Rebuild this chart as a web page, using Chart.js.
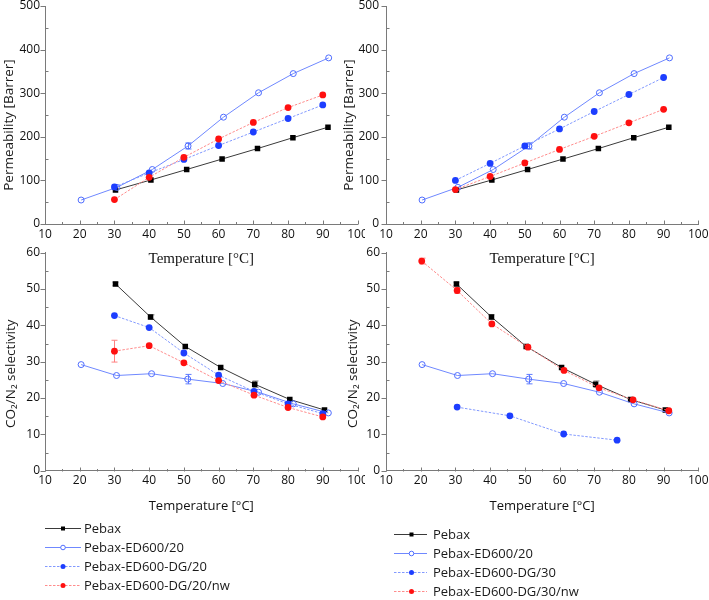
<!DOCTYPE html>
<html>
<head>
<meta charset="utf-8">
<script src="https://cdn.jsdelivr.net/npm/chart.js@4.4.1/dist/chart.umd.min.js"></script>
<style>
  html, body { margin: 0; padding: 0; background: #fff; }
  #wrap { position: relative; width: 709px; height: 600px; overflow: hidden; }
  canvas { position: absolute; }
  .leg { position: absolute; font-family: "Open Sans", sans-serif; font-size: 13px; color: #1a1a1a; }
  .row { position: absolute; height: 18px; white-space: nowrap; }
  .row svg { position: absolute; left: 0; top: 0; }
  .row span { position: absolute; top: 0; line-height: 18px; }
</style>
</head>
<body>
<div id="wrap">
  <canvas id="c1" width="365" height="272" style="left:0px;top:0px"></canvas>
  <canvas id="c2" width="369" height="272" style="left:340px;top:0px"></canvas>
  <canvas id="c3" width="365" height="280" style="left:0px;top:240px"></canvas>
  <canvas id="c4" width="369" height="280" style="left:340px;top:240px"></canvas>
  <div id="leg1" class="leg"></div>
  <div id="leg2" class="leg"></div>
</div>
<script>
// ---------------- data ----------------
// Permeability panels (top)
const pebaxTempP   = [30.3, 40.5, 50.8, 61.0, 71.2, 81.4, 91.5];
const pebaxPerm    = [78, 101, 125, 149, 173, 198, 222];
const ed20TempP    = [20.4, 30.7, 40.9, 51.2, 61.4, 71.5, 81.5, 91.7];
const ed20Perm     = [55, 84, 125, 179, 245, 301, 345, 381];
const ed20PermErr  = [0, 0, 0, 7, 0, 0, 0, 0];
const dgTempP      = [30, 40, 50, 60, 70, 80, 90];
const dg20Perm     = [85, 117, 148, 180, 211, 242, 273];
const dg20nwPerm   = [56, 107, 153, 195, 233, 267, 296];
const dg30Perm     = [100, 139, 179, 218, 258, 297, 336];
const dg30nwPerm   = [79, 109, 140, 171, 201, 232, 263];

// Selectivity panels (bottom)
const pebaxTempS   = [30.3, 40.4, 50.4, 60.6, 70.4, 80.5, 90.5];
const pebaxSel     = [51.4, 42.3, 34.2, 28.4, 23.8, 19.6, 16.7];
const pebaxSelErr  = [0.5, 0.6, 0, 0, 0.9, 0, 0];
const ed20TempS    = [20.4, 30.6, 40.7, 51.1, 61.2, 71.5, 81.5, 91.6];
const ed20Sel      = [29.2, 26.2, 26.7, 25.2, 24.0, 21.6, 18.4, 15.9];
const ed20SelErr   = [0, 0, 0, 1.3, 0, 0, 0, 0];
const dg20TempS    = [30, 40, 50, 60, 70.2, 80, 90];
const dg20Sel      = [42.7, 39.4, 32.4, 26.3, 21.8, 18.4, 15.7];
const dg20nwSel    = [32.9, 34.4, 29.7, 24.8, 20.8, 17.4, 14.8];
const dg20nwSelErr = [3.0, 0, 0, 0, 0, 0, 0];
const dg30TempS    = [30.5, 45.7, 61.2, 76.6];
const dg30Sel      = [17.5, 15.1, 10.1, 8.4];
const dg30nwTempS  = [20.3, 30.5, 40.5, 50.9, 61.3, 71.4, 81.2, 91.5];
const dg30nwSel    = [57.7, 49.6, 40.4, 34.0, 27.6, 22.8, 19.5, 16.5];
const dg30nwSelErr = [0.8, 0.8, 0, 0, 0, 0, 0, 0];

// axes
const tempTicks = [10, 20, 30, 40, 50, 60, 70, 80, 90, 100];
const permTicks = [0, 100, 200, 300, 400, 500];
const selTicks  = [0, 10, 20, 30, 40, 50, 60];

const names1 = ['Pebax', 'Pebax-ED600/20', 'Pebax-ED600-DG/20', 'Pebax-ED600-DG/20/nw'];
const names2 = ['Pebax', 'Pebax-ED600/20', 'Pebax-ED600-DG/30', 'Pebax-ED600-DG/30/nw'];

// ---------------- styles ----------------
const ST = {
  pebax: { line: '#3a3a3a', dash: [], pt: 'rect', r: 3.9, fill: '#000000', stroke: '#000000', bw: 0, err: '#8a8a8a' },
  ed:    { line: '#6f88ff', dash: [], pt: 'circle', r: 3.0, fill: 'rgba(0,0,0,0)', stroke: '#4f6dff', bw: 1, err: '#5f7cff' },
  dg:    { line: '#8299ff', dash: [2.5, 1.5], pt: 'circle', r: 3.4, fill: '#1d3eff', stroke: '#1d3eff', bw: 0, err: '#5f7cff' },
  nw:    { line: '#ff8c8c', dash: [2.5, 1.5], pt: 'circle', r: 3.4, fill: '#ff1010', stroke: '#ff1010', bw: 0, err: '#ff8080' }
};

function ds(label, xs, ys, st, order, errs) {
  return {
    label: label,
    data: xs.map((t, i) => ({ x: t, y: ys[i] })),
    errors: errs || null,
    errColor: st.err,
    showLine: true,
    borderColor: st.line,
    borderWidth: 1,
    borderDash: st.dash,
    pointStyle: st.pt,
    pointRadius: st.r,
    pointBackgroundColor: st.fill,
    pointBorderColor: st.stroke,
    pointBorderWidth: st.bw,
    tension: 0,
    fill: false,
    order: order
  };
}

// ---------------- plugins ----------------
const errorBars = {
  id: 'errorBars',
  beforeDatasetsDraw(chart) {
    const ctx = chart.ctx, y = chart.scales.y;
    chart.data.datasets.forEach((d, di) => {
      if (!d.errors) return;
      const meta = chart.getDatasetMeta(di);
      ctx.save();
      ctx.strokeStyle = d.errColor; ctx.lineWidth = 1;
      d.data.forEach((p, i) => {
        const e = d.errors[i];
        if (!e) return;
        const px = Math.round(meta.data[i].x) + 0.5;
        const y1 = y.getPixelForValue(p.y + e), y2 = y.getPixelForValue(p.y - e);
        ctx.beginPath();
        ctx.moveTo(px, y1); ctx.lineTo(px, y2);
        ctx.moveTo(px - 3, y1); ctx.lineTo(px + 3, y1);
        ctx.moveTo(px - 3, y2); ctx.lineTo(px + 3, y2);
        ctx.stroke();
      });
      ctx.restore();
    });
  }
};

const axisTicks = {
  id: 'axisTicks',
  afterDraw(chart, args, o) {
    const { ctx, chartArea: a, scales: { x, y } } = chart;
    ctx.save();
    ctx.strokeStyle = '#7a7a7a'; ctx.lineWidth = 1;
    ctx.beginPath();
    const yb = Math.round(a.bottom) + 0.5;
    for (let v = x.min; v <= x.max + 1e-9; v += o.xMinor) {
      const px = Math.round(x.getPixelForValue(v)) + 0.5;
      const major = Math.abs(v / o.xMajor - Math.round(v / o.xMajor)) < 1e-6;
      ctx.moveTo(px, yb); ctx.lineTo(px, yb - (major ? 4 : 2.5));
    }
    const xl = Math.round(a.left) + 0.5;
    for (let v = y.min; v <= y.max + 1e-9; v += o.yMinor) {
      const py = Math.round(y.getPixelForValue(v)) + 0.5;
      const major = Math.abs(v / o.yMajor - Math.round(v / o.yMajor)) < 1e-6;
      if (major) { ctx.moveTo(xl - 5, py); ctx.lineTo(xl, py); }
      else { ctx.moveTo(xl, py); ctx.lineTo(xl + 3, py); }
    }
    ctx.stroke();
    ctx.restore();
  }
};

const yTitle = {
  id: 'yTitle',
  afterDraw(chart, args, o) {
    const { ctx, chartArea: a } = chart;
    ctx.save();
    ctx.font = o.font;
    ctx.fillStyle = '#1a1a1a';
    ctx.textAlign = 'center';
    ctx.textBaseline = 'middle';
    ctx.translate(o.x, (a.top + a.bottom) / 2 + o.dy);
    ctx.rotate(-Math.PI / 2);
    ctx.fillText(o.text, 0, 0);
    ctx.restore();
  }
};

// ---------------- chart factory ----------------
function makeChart(id, datasets, c) {
  return new Chart(document.getElementById(id), {
    type: 'scatter',
    data: { datasets: datasets },
    plugins: [errorBars, axisTicks, yTitle],
    options: {
      responsive: false,
      animation: false,
      events: [],
      layout: { padding: { left: 0, top: c.top, right: c.right, bottom: 0 } },
      plugins: {
        legend: { display: false },
        tooltip: { enabled: false },
        axisTicks: { xMinor: 5, xMajor: 10, yMinor: c.yStep / 2, yMajor: c.yStep },
        yTitle: { text: c.yTitle, x: c.yTitleX, dy: c.yTitleDy, font: '13.5px "Open Sans"' }
      },
      scales: {
        x: {
          type: 'linear',
          min: tempTicks[0], max: tempTicks[tempTicks.length - 1],
          afterBuildTicks: s => { s.ticks = tempTicks.map(v => ({ value: v })); },
          afterFit: s => { s.height = c.xH; s.paddingLeft = 0; s.paddingRight = 0; },
          grid: { display: false, drawTicks: false },
          border: { display: true, color: '#7a7a7a', width: 1 },
          ticks: { color: '#111', padding: 3, maxRotation: 0, autoSkip: false, font: { family: 'Open Sans', size: 12 } },
          title: { display: true, text: 'Temperature [°C]', color: '#111', font: c.xTitleFont, padding: { top: 0, bottom: c.xTitlePad } }
        },
        y: {
          type: 'linear',
          min: c.yTicks[0], max: c.yTicks[c.yTicks.length - 1],
          afterBuildTicks: s => { s.ticks = c.yTicks.map(v => ({ value: v })); },
          afterFit: s => { s.width = c.yW; s.paddingTop = 0; s.paddingBottom = 0; },
          grid: { display: false, drawTicks: false },
          border: { display: true, color: '#7a7a7a', width: 1 },
          ticks: { color: '#111', padding: c.yPad, autoSkip: false, font: { family: 'Open Sans', size: 12 } },
          title: { display: false }
        }
      }
    }
  });
}

const serifTitle = { family: 'Liberation Serif', size: 15 };
const sansTitle = { family: 'Open Sans', size: 13 };

makeChart('c1', [
  ds(names1[0], pebaxTempP, pebaxPerm, ST.pebax, 3),
  ds(names1[1], ed20TempP, ed20Perm, ST.ed, 2, ed20PermErr),
  ds(names1[2], dgTempP, dg20Perm, ST.dg, 1),
  ds(names1[3], dgTempP, dg20nwPerm, ST.nw, 0)
], { top: 6, right: 7.5, xH: 48, yW: 45, yPad: 5, yTicks: permTicks, yStep: 100,
     yTitle: 'Permeability [Barrer]', yTitleX: 9, yTitleDy: 10, xTitleFont: serifTitle, xTitlePad: 4 });

makeChart('c2', [
  ds(names2[0], pebaxTempP, pebaxPerm, ST.pebax, 3),
  ds(names2[1], ed20TempP, ed20Perm, ST.ed, 2, ed20PermErr),
  ds(names2[2], dgTempP, dg30Perm, ST.dg, 1),
  ds(names2[3], dgTempP, dg30nwPerm, ST.nw, 0)
], { top: 6, right: 10.7, xH: 48, yW: 46, yPad: 7, yTicks: permTicks, yStep: 100,
     yTitle: 'Permeability [Barrer]', yTitleX: 9, yTitleDy: 10, xTitleFont: serifTitle, xTitlePad: 4 });

makeChart('c3', [
  ds(names1[0], pebaxTempS, pebaxSel, ST.pebax, 3, pebaxSelErr),
  ds(names1[1], ed20TempS, ed20Sel, ST.ed, 2, ed20SelErr),
  ds(names1[2], dg20TempS, dg20Sel, ST.dg, 1),
  ds(names1[3], dg20TempS, dg20nwSel, ST.nw, 0, dg20nwSelErr)
], { top: 12.7, right: 7.5, xH: 49.3, yW: 45, yPad: 5, yTicks: selTicks, yStep: 10,
     yTitle: 'CO₂/N₂ selectivity', yTitleX: 11, yTitleDy: 12, xTitleFont: sansTitle, xTitlePad: 5.5 });

makeChart('c4', [
  ds(names2[0], pebaxTempS, pebaxSel, ST.pebax, 3, pebaxSelErr),
  ds(names2[1], ed20TempS, ed20Sel, ST.ed, 2, ed20SelErr),
  ds(names2[2], dg30TempS, dg30Sel, ST.dg, 1),
  ds(names2[3], dg30nwTempS, dg30nwSel, ST.nw, 0, dg30nwSelErr)
], { top: 12.7, right: 10.7, xH: 49.3, yW: 46, yPad: 6, yTicks: selTicks, yStep: 10,
     yTitle: 'CO₂/N₂ selectivity', yTitleX: 13, yTitleDy: 12, xTitleFont: sansTitle, xTitlePad: 5.5 });

// ---------------- legends (HTML) ----------------
function legendSym(st, w, mx) {
  const dash = st.dash.length ? ` stroke-dasharray="${st.dash.join(',')}"` : '';
  let mk;
  if (st.pt === 'rect') mk = `<rect x="${mx - 2}" y="7.5" width="4" height="4" fill="#000"/>`;
  else if (st.bw) mk = `<circle cx="${mx}" cy="9.5" r="2.3" fill="#fff" stroke="${st.stroke}" stroke-width="1"/>`;
  else mk = `<circle cx="${mx}" cy="9.5" r="2.5" fill="${st.fill}"/>`;
  return `<svg width="${w}" height="18"><line x1="0" y1="9.5" x2="${w}" y2="9.5" stroke="${st.line}" stroke-width="1"${dash}/>${mk}</svg>`;
}
function buildLegend(elId, names, left, top, w, mx, textX) {
  const el = document.getElementById(elId);
  el.style.left = left + 'px'; el.style.top = top + 'px';
  const sts = [ST.pebax, ST.ed, ST.dg, ST.nw];
  names.forEach((n, i) => {
    const r = document.createElement('div');
    r.className = 'row';
    r.style.top = (i * 19) + 'px';
    r.style.left = '0px';
    r.innerHTML = legendSym(sts[i], w, mx) + `<span style="left:${textX}px">${n}</span>`;
    el.appendChild(r);
  });
}
buildLegend('leg1', names1, 45, 519, 36, 18, 39);
buildLegend('leg2', names2, 394, 525, 33, 17.5, 39);
</script>
</body>
</html>
